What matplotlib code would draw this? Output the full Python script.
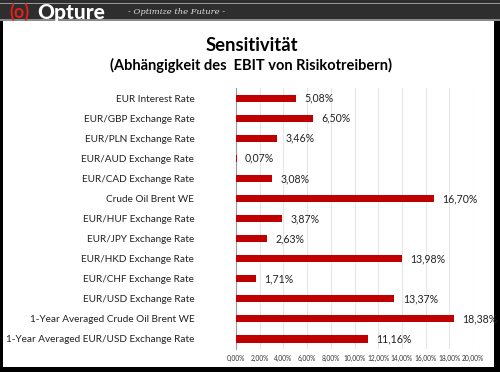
import matplotlib
matplotlib.use("Agg")
import matplotlib.pyplot as plt
from matplotlib.patches import Rectangle
from matplotlib.ticker import MultipleLocator, FuncFormatter

plt.rcParams["font.family"] = ["Lato", "DejaVu Sans"]

# Data (percent)
categories = [
    "EUR Interest Rate",
    "EUR/GBP Exchange Rate",
    "EUR/PLN Exchange Rate",
    "EUR/AUD Exchange Rate",
    "EUR/CAD Exchange Rate",
    "Crude Oil Brent WE",
    "EUR/HUF Exchange Rate",
    "EUR/JPY Exchange Rate",
    "EUR/HKD Exchange Rate",
    "EUR/CHF Exchange Rate",
    "EUR/USD Exchange Rate",
    "1-Year Averaged Crude Oil Brent WE",
    "1-Year Averaged EUR/USD Exchange Rate",
]
values = [5.08, 6.50, 3.46, 0.07, 3.08, 16.70, 3.87, 2.63, 13.98, 1.71, 13.37, 18.38, 11.16]

BAR_COLOR = "#C00000"


def pct(v):
    return f"{v:.2f}%".replace(".", ",")


fig = plt.figure(figsize=(5.0, 3.72), dpi=100)

# frame + header bar
fig.patches.append(Rectangle((0, 0), 1, 1, transform=fig.transFigure,
                             facecolor="black", edgecolor="none", zorder=0))
fig.patches.append(Rectangle((0.006, 0.014), 0.982, 0.93, transform=fig.transFigure,
                             facecolor="white", edgecolor="none", zorder=1))
fig.patches.append(Rectangle((0, 0.944), 1, 0.056, transform=fig.transFigure,
                             facecolor="#2e2e2e", edgecolor="none", zorder=1))
fig.patches.append(Rectangle((0, 0.988), 1, 0.005, transform=fig.transFigure,
                             facecolor="#9a9a9a", edgecolor="none", zorder=2))
fig.patches.append(Rectangle((0, 0.944), 1, 0.006, transform=fig.transFigure,
                             facecolor="#8a8a8a", edgecolor="none", zorder=2))

fig.text(0.018, 0.967, "(o)", color="#E0201B", fontsize=13, fontweight="bold",
         va="center", ha="left")
fig.text(0.074, 0.967, "Opture", color="white", fontsize=15, fontweight="black",
         va="center", ha="left")
fig.text(0.255, 0.967, "- Optimize the Future -", color="#dddddd", fontsize=6,
         style="italic", family=["DejaVu Serif"], va="center", ha="left")

fig.text(0.503, 0.877, "Sensitivität", fontsize=13.3, fontweight="bold",
         ha="center", va="center")
fig.text(0.503, 0.823, "(Abhängigkeit des  EBIT von Risikotreibern)", fontsize=10.5,
         fontweight="bold", ha="center", va="center")

ax = fig.add_axes([0.472, 0.062, 0.474, 0.701])
y = list(range(len(categories)))
ax.barh(y, values, height=0.36, color=BAR_COLOR, zorder=3)
for yi, v in zip(y, values):
    ax.text(v + 0.7, yi, pct(v), va="center", ha="left", fontsize=7.6, color="#222222")

ax.set_xlim(0, 20)
ax.set_ylim(len(categories) - 0.5, -0.5)
ax.set_yticks(y)
ax.set_yticklabels(categories, fontsize=7.2, color="#222222")
ax.tick_params(axis="y", length=0, pad=30)
ax.xaxis.set_major_locator(MultipleLocator(2))
ax.xaxis.set_major_formatter(FuncFormatter(lambda v, _: pct(v)))
ax.tick_params(axis="x", labelsize=4.8, colors="#333333", length=0, pad=4)
ax.grid(axis="x", color="#e6e6e6", linewidth=0.8, zorder=0)
for s in ("top", "right", "bottom"):
    ax.spines[s].set_visible(False)
ax.spines["left"].set_color("#9a9a9a")
ax.spines["left"].set_linewidth(0.8)
ax.set_facecolor("none")
ax.set_zorder(5)

fig.savefig("out.png", dpi=100)
